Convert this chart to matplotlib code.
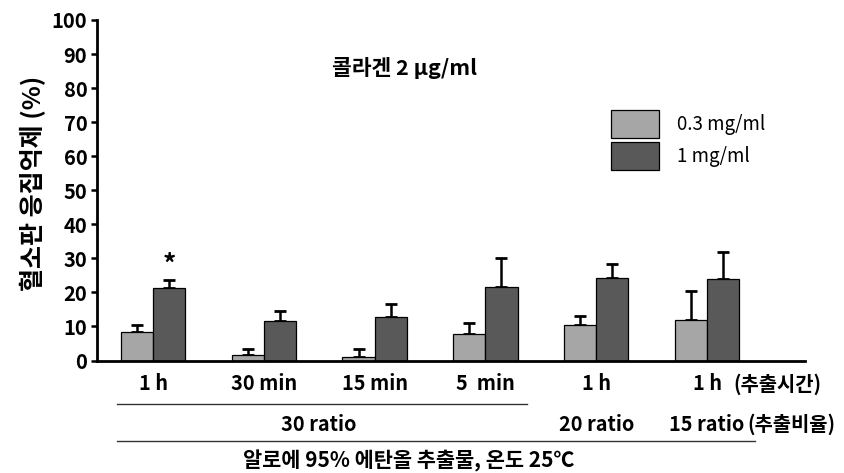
import matplotlib
matplotlib.use("Agg")
import matplotlib.pyplot as plt
import matplotlib.transforms as mtransforms
from matplotlib.lines import Line2D
import numpy as np

plt.rcParams['font.family'] = ['Noto Sans CJK KR', 'DejaVu Sans']

# Extraction conditions and inhibition values (%)
time_labels = ["1 h", "30 min", "15 min", "5  min", "1 h", "1 h"]
ratio_labels = ["30 ratio", "20 ratio", "15 ratio"]
series_names = ["0.3 mg/ml", "1 mg/ml"]
low_dose = [8.3, 1.6, 0.9, 7.7, 10.5, 11.8]
low_err = [2.0, 1.7, 2.4, 3.3, 2.5, 8.7]
high_dose = [21.2, 11.5, 12.8, 21.5, 24.3, 24.0]
high_err = [2.3, 2.9, 3.7, 8.5, 4.1, 7.8]
significant = [True, False, False, False, False, False]
y_ticks = list(range(0, 101, 10))

light = "#a6a6a6"
dark = "#595959"

W, H = 845, 473
fig = plt.figure(figsize=(W / 100, H / 100), dpi=100)
ax = fig.add_axes([97 / W, 1 - 360.5 / H, (805 - 97) / W, (360.5 - 20) / H])

x = np.arange(len(time_labels))
bw = 0.29
err_kw = dict(ecolor="black", elinewidth=1.8, capsize=4, capthick=2.0)

ax.bar(x - bw / 2, low_dose, bw, color=light, edgecolor="black", linewidth=0.9,
       label=series_names[0], zorder=2)
ax.errorbar(x - bw / 2, low_dose, yerr=[np.zeros(len(x)), low_err], fmt="none",
            zorder=1, **err_kw)
ax.bar(x + bw / 2, high_dose, bw, color=dark, edgecolor="black", linewidth=0.9,
       label=series_names[1], zorder=2)
ax.errorbar(x + bw / 2, high_dose, yerr=[np.zeros(len(x)), high_err], fmt="none",
            zorder=1, **err_kw)

for xi, v, e, s in zip(x, high_dose, high_err, significant):
    if s:
        ax.annotate("*", xy=(xi + bw / 2, v + e), xytext=(0, 1),
                    textcoords="offset points", ha="center", va="bottom",
                    fontsize=19, fontweight="bold")

ax.set_xlim(-0.5054, 5.884)
ax.set_ylim(0, 100)
ax.set_yticks(y_ticks)
for s in ("top", "right"):
    ax.spines[s].set_visible(False)
for s in ("left", "bottom"):
    ax.spines[s].set_linewidth(2.0)
ax.tick_params(axis="y", length=4, width=1.8, pad=3, labelsize=14.5)
ax.tick_params(axis="x", length=0, pad=9, labelsize=14.3)
ax.set_xticks(x)
ax.set_xticklabels(time_labels)
for t in ax.get_xticklabels() + ax.get_yticklabels():
    t.set_fontweight("bold")

ax.set_ylabel("혈소판 응집억제 (%)", fontsize=18, fontweight="bold")
ax.yaxis.set_label_coords(-0.072, 0.521)

ax.text((405 - 97) / (805 - 97), 1 - (68 - 20) / (360.5 - 20),
        "콜라겐 2 μg/ml", transform=ax.transAxes, ha="center", va="center",
        fontsize=15.5, fontweight="bold")

leg = ax.legend(loc="upper left", bbox_to_anchor=(611 / W, 1 - 110 / H),
                bbox_transform=fig.transFigure, frameon=False, fontsize=13.5,
                handlelength=2.55, handleheight=1.9, handletextpad=0.95,
                labelspacing=0.25, borderpad=0, borderaxespad=0)
for p in leg.get_patches():
    p.set_linewidth(0.9)

# Grouping labels and rules under the axis
bt = mtransforms.blended_transform_factory(ax.transData, fig.transFigure)
lab_kw = dict(fontsize=14.3, fontweight="bold")
ax.annotate("(추출시간)", xy=(x[-1], 0), xycoords=("data", "axes fraction"),
            xytext=(19, -9), textcoords="offset points", ha="left", va="top",
            **lab_kw)
row2_y = 1 - 424 / H
ax.text(np.mean(x[:4]), row2_y, ratio_labels[0], transform=bt, ha="center",
        va="center", **lab_kw)
ax.text(x[4], row2_y, ratio_labels[1], transform=bt, ha="center",
        va="center", **lab_kw)
ax.text(x[5], row2_y, ratio_labels[2], transform=bt, ha="center",
        va="center", **lab_kw)
ax.annotate("(추출비율)", xy=(x[5], row2_y), xycoords=bt,
            xytext=(29, 0), textcoords="offset points", ha="left",
            va="center", **lab_kw)
fig.text(409 / W, 1 - 461 / H, "알로에 95% 에탄올 추출물, 온도 25℃", ha="center",
         fontsize=15, fontweight="bold", va="center")

fig.add_artist(Line2D([117 / W, 527 / W], [1 - 404 / H] * 2, color="#333333",
                      linewidth=1.0, transform=fig.transFigure))
fig.add_artist(Line2D([117 / W, 755 / W], [1 - 441 / H] * 2, color="#333333",
                      linewidth=1.0, transform=fig.transFigure))

fig.savefig("out.png", dpi=100)
